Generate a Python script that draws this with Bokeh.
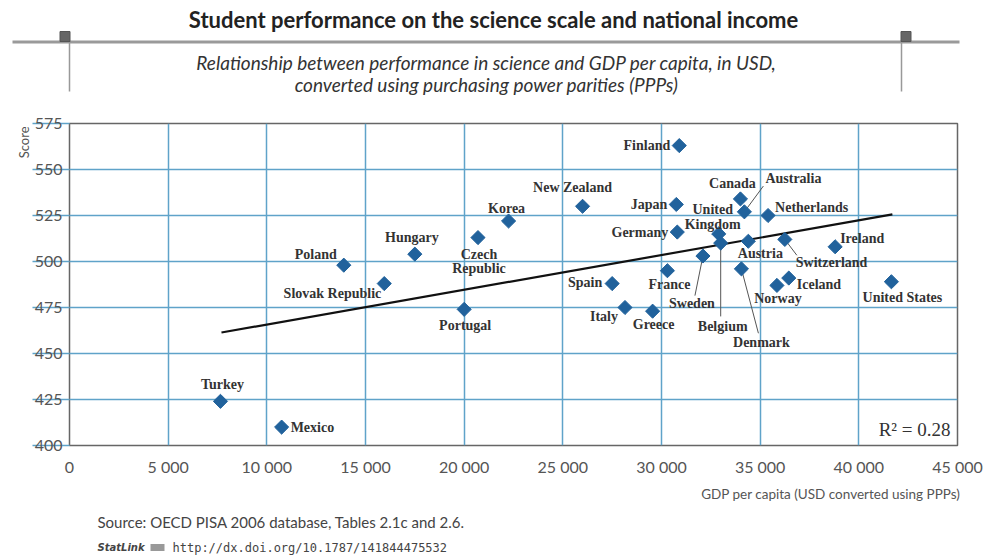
import math
from bokeh.plotting import figure
from bokeh.layouts import column
from bokeh.models import ColumnDataSource, Range1d, FixedTicker, Title
from bokeh.core.properties import value
from bokeh.embed import file_html
from bokeh.resources import INLINE

# ---------------- data ----------------
countries = ["Finland", "Canada", "Australia", "Netherlands", "United\nKingdom", "Belgium",
             "Austria", "Switzerland", "Ireland", "Sweden", "Denmark", "France", "Japan",
             "Germany", "New Zealand", "Spain", "Italy", "Greece", "Iceland", "Norway",
             "United States", "Korea", "Czech\nRepublic", "Hungary", "Poland",
             "Slovak Republic", "Portugal", "Turkey", "Mexico"]
gdp = [30900, 34000, 34200, 35400, 32900, 33000,
       34400, 36250, 38800, 32100, 34050, 30300, 30750,
       30800, 26000, 27500, 28150, 29550, 36450, 35850,
       41650, 22250, 20700, 17500, 13900,
       15950, 20000, 7650, 10750]
score = [563, 534, 527, 525, 515, 510,
         511, 512, 508, 503, 496, 495, 531,
         516, 530, 488, 475, 473, 491, 487,
         489, 522, 513, 504, 498,
         488, 474, 424, 410]

trend_gdp = [7700, 41700]
trend_score = [461.4, 525.6]

x_ticks = [0, 5000, 10000, 15000, 20000, 25000, 30000, 35000, 40000, 45000]
x_tick_labels = ["0", "5 000", "10 000", "15 000", "20 000", "25 000", "30 000",
                 "35 000", "40 000", "45 000"]
y_ticks = [400, 425, 450, 475, 500, 525, 550, 575]

r_squared = 0.28

title_text = "Student performance on the science scale and national income"
subtitle_lines = ["Relationship between performance in science and GDP per capita, in USD,",
                  "converted using purchasing power parities (PPPs)"]
x_title = "GDP per capita (USD converted using PPPs)"
y_title = "Score"
source_text = "Source: OECD PISA 2006 database, Tables 2.1c and 2.6."
statlink_url = "http://dx.doi.org/10.1787/141844475532"

# ---------------- label layout (pixels, screen offsets; +y = down) ----------------
label_layout = {
    "Finland": (-9, 0, "right"),
    "Canada": (-8, -15, "center"),
    "Australia": (21, -33, "left"),
    "Netherlands": (7, -8, "left"),
    "United\nKingdom": (-6, -17, "center"),
    "Belgium": (2, 83, "center"),
    "Austria": (12, 12, "center"),
    "Switzerland": (11, 23, "left"),
    "Ireland": (5, -8, "left"),
    "Sweden": (-11, 48, "center"),
    "Denmark": (20, 74, "center"),
    "France": (2, 14, "center"),
    "Japan": (-9, 0, "right"),
    "Germany": (-9, 0, "right"),
    "New Zealand": (-10, -19, "center"),
    "Spain": (-10, -1, "right"),
    "Italy": (-7, 9, "right"),
    "Greece": (1, 13, "center"),
    "Iceland": (8, 6, "left"),
    "Norway": (1, 13, "center"),
    "United States": (11, 16, "center"),
    "Korea": (-2, -13, "center"),
    "Czech\nRepublic": (1, 24, "center"),
    "Hungary": (-3, -17, "center"),
    "Poland": (-7, -11, "right"),
    "Slovak Republic": (-3, 10, "right"),
    "Portugal": (1, 16, "center"),
    "Turkey": (2, -17, "center"),
    "Mexico": (9, 0, "left"),
}
leader_layout = {
    "Australia": (19, -26),
    "Sweden": (-8, 40),
    "Belgium": (0, 74),
    "Denmark": (17, 65),
    "Switzerland": (12, 16),
}

W = 986
HEAD_H, MAIN_H, FOOT_H = 105, 373, 78
FL, FT, FR, FB = 69, 18, 29, 30
frame_w = W - FL - FR
frame_h = MAIN_H - FT - FB

XMIN, XMAX, YMIN, YMAX = 0, 45000, 400, 575
px_x = (XMAX - XMIN) / frame_w
px_y = (YMAX - YMIN) / frame_h


def blank(height):
    f = figure(width=W, height=height, output_backend="svg", toolbar_location=None,
               x_range=Range1d(0, W), y_range=Range1d(height, 0), min_border=0,
               background_fill_color="white", border_fill_color="white",
               frame_align=False)
    f.axis.visible = False
    f.grid.visible = False
    f.outline_line_color = None
    return f


# ---------------- header ----------------
hd = blank(HEAD_H)
hd.text([493], [19], text=[title_text], text_align="center", text_baseline="middle",
        text_font=value("Lato"), text_font_style="bold", text_font_size="22px",
        text_color="#222222")
hd.text([486, 486], [62, 84], text=subtitle_lines, text_align="center",
        text_baseline="middle", text_font=value("Lato"), text_font_style="italic",
        text_font_size="19px", text_color="#333333")
hd.segment(x0=[12], y0=[41.5], x1=[959], y1=[41.5], line_color="#9a9a9a", line_width=3)
hd.segment(x0=[69, 901], y0=[41, 41], x1=[69, 901], y1=[91, 91], line_color="#999999",
           line_width=1.5)
hd.rect(x=[64.5, 905.5], y=[36, 36], width=10, height=10, fill_color="#666666",
        line_color="#555555")

# ---------------- main ----------------
src = ColumnDataSource(dict(
    x=gdp, y=score, name=countries,
    dx=[label_layout[c][0] for c in countries],
    dy=[label_layout[c][1] for c in countries],
    align=[label_layout[c][2] for c in countries],
))

lx0, ly0, lx1, ly1 = [], [], [], []
for c, gx, sy in zip(countries, gdp, score):
    if c in leader_layout:
        ddx, ddy = leader_layout[c]
        lx0.append(gx); ly0.append(sy)
        lx1.append(gx + ddx * px_x); ly1.append(sy - ddy * px_y)

p = figure(width=W, height=MAIN_H, output_backend="svg", toolbar_location=None,
           x_range=Range1d(XMIN, XMAX), y_range=Range1d(YMIN, YMAX),
           min_border_left=FL, min_border_right=FR, min_border_top=FT,
           min_border_bottom=FB, background_fill_color="white",
           border_fill_color="white", frame_align=False)

p.outline_line_color = "#666666"
p.outline_line_width = 1.5

grid_col = "#5fa3c9"
p.xgrid.ticker = FixedTicker(ticks=x_ticks)
p.ygrid.ticker = FixedTicker(ticks=y_ticks)
p.xgrid.grid_line_color = grid_col
p.ygrid.grid_line_color = grid_col
p.xgrid.grid_line_width = 1.5
p.ygrid.grid_line_width = 1.5

xa = p.xaxis[0]
xa.ticker = FixedTicker(ticks=x_ticks)
xa.major_label_overrides = {t: l for t, l in zip(x_ticks, x_tick_labels)}
xa.axis_line_color = None
xa.major_tick_line_color = None
xa.minor_tick_line_color = None
xa.major_tick_out = 0
xa.major_label_standoff = 11
xa.major_label_text_font = "Lato"
xa.major_label_text_font_size = "16px"
xa.major_label_text_color = "#555555"

ya = p.yaxis[0]
ya.ticker = FixedTicker(ticks=y_ticks)
ya.axis_line_color = None
ya.minor_tick_line_color = None
ya.major_tick_out = 37
ya.major_tick_in = 0
ya.major_tick_line_color = grid_col
ya.major_tick_line_width = 1.5
ya.major_label_standoff = -30
ya.major_label_text_baseline = "bottom"
ya.major_label_text_font = "Lato"
ya.major_label_text_font_size = "16px"
ya.major_label_text_color = "#555555"

p.add_layout(Title(text=y_title, align="right", offset=3, standoff=0,
                   text_font="Lato", text_font_style="normal", text_font_size="13px",
                   text_color="#555555"), "left")

# trend line
p.line(trend_gdp, trend_score, line_color="#111111", line_width=2.2)

# leader lines
p.segment(x0=lx0, y0=ly0, x1=lx1, y1=ly1, line_color="#555555", line_width=1)

# points
p.scatter("x", "y", source=src, marker="square", angle=math.pi / 4, size=10,
          fill_color="#21629c", line_color="#21629c")

# labels
p.text("x", "y", text="name", source=src, x_offset="dx", y_offset="dy",
       text_align="align", text_baseline="middle",
       text_font=value("Liberation Serif"), text_font_style="bold",
       text_font_size="14px", text_color="#333333", text_line_height=0.95)

# R squared (anchored at the lower right corner of the frame)
p.text(x=[XMAX], y=[YMIN], text=[f"R\u00b2 = {r_squared:.2f}"], x_offset=-7, y_offset=-16,
       text_align="right", text_baseline="middle",
       text_font=value("Liberation Serif"), text_font_size="19px", text_color="#333333")

# ---------------- footer ----------------
ft = blank(FOOT_H)
ft.text([960], [15], text=[x_title], text_align="right", text_baseline="middle",
        text_font=value("Lato"), text_font_size="13.5px", text_color="#555555")
ft.text([97], [43], text=[source_text], text_align="left", text_baseline="middle",
        text_font=value("Lato"), text_font_size="15px", text_color="#444444")
ft.text([97], [69], text=["StatLink"], text_align="left", text_baseline="middle",
        text_font=value("DejaVu Sans"), text_font_style="bold italic",
        text_font_size="10px", text_color="#444444")
ft.rect(x=[157], y=[69], width=14, height=7, fill_color="#999999", line_color=None)
ft.text([172], [69], text=[statlink_url], text_align="left", text_baseline="middle",
        text_font=value("DejaVu Sans Mono"), text_font_size="12px", text_color="#444444")

layout = column(hd, p, ft, spacing=0)
open("out.html", "w").write(file_html(layout, INLINE))
